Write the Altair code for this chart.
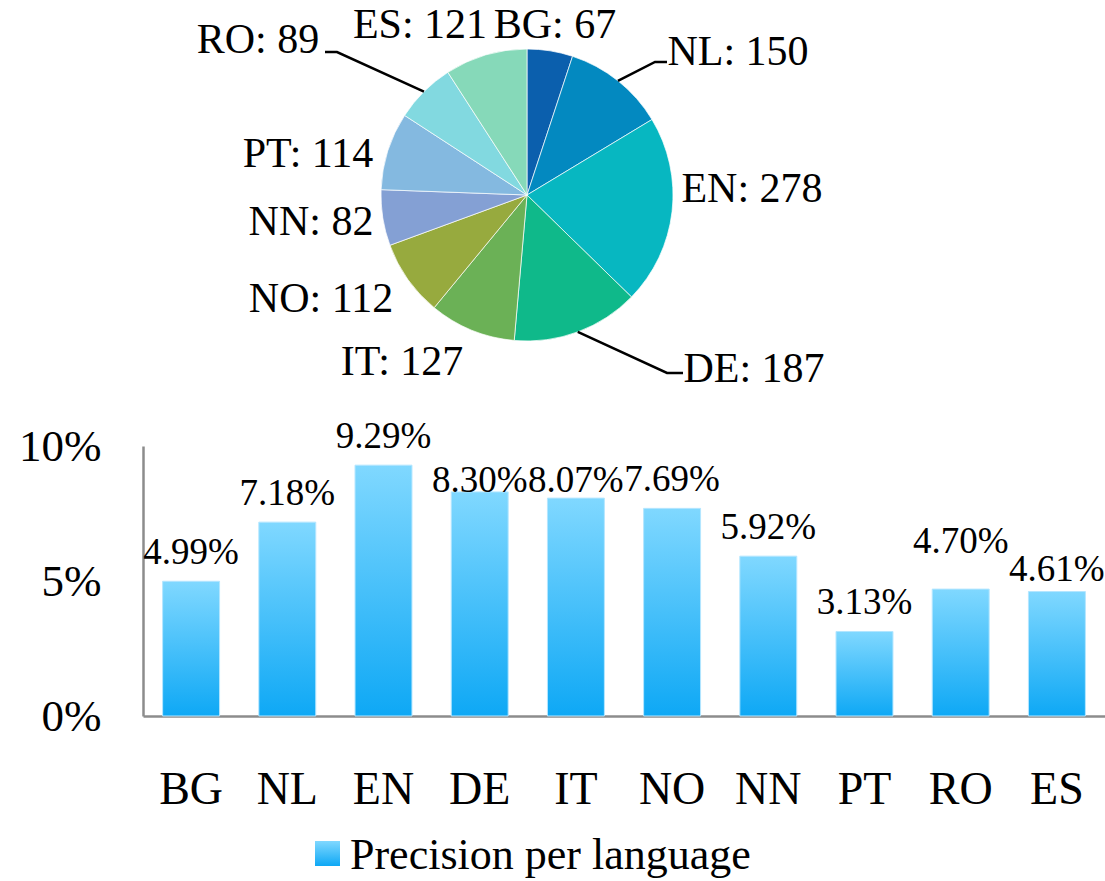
import math

import altair as alt
import pandas as pd

# ---- data -------------------------------------------------------------
languages = ["BG", "NL", "EN", "DE", "IT", "NO", "NN", "PT", "RO", "ES"]
pie_counts = [67, 150, 278, 187, 127, 112, 82, 114, 89, 121]
precision_pct = [4.99, 7.18, 9.29, 8.30, 8.07, 7.69, 5.92, 3.13, 4.70, 4.61]
y_ticks = [0, 5, 10]
legend_label = "Precision per language"

slice_colors = ["#0b5fad", "#0389c0", "#07b7c1", "#0fb98a", "#6bb156",
                "#97aa3e", "#84a0d4", "#84b9e0", "#82d9e0", "#86d9b9"]

# ---- layout (canvas pixels) ------------------------------------------
LEFT = 143          # left edge of the bar plot
PLOT_W = 962
PLOT_H = 716        # baseline of the bars (0 %)
BOTTOM = 165
Y_TOP = 446         # 10 % line
PIE_CX, PIE_CY, PIE_R = 527, 195, 146
FONT = "Liberation Serif"

# pie label anchors: centre x, baseline y
label_anchor = {
    "BG": (555, 38), "NL": (738, 65), "EN": (752, 202), "DE": (754, 382),
    "IT": (402, 375), "NO": (321, 312), "NN": (311, 235), "PT": (308, 167),
    "RO": (258, 53), "ES": (420, 38),
}
# leader lines: elbow and end point beside the label
leader_path = {
    "NL": [(655, 62), (667, 62)],
    "DE": [(667, 373), (683, 373)],
    "RO": [(337, 52), (325, 52)],
}
# value labels sit 17px above their bar; a few are nudged vertically
LABEL_GAP = 17
value_label_nudge = {"DE": 17, "IT": 11, "RO": -19, "ES": 6}

bar_fill = {
    "gradient": "linear", "x1": 0, "y1": 0, "x2": 0, "y2": 1,
    "stops": [{"offset": 0, "color": "#80d8ff"},
              {"offset": 1, "color": "#0ea8f5"}],
}

# ---- tables -----------------------------------------------------------
bars_df = pd.DataFrame({
    "lang": languages,
    "pct": precision_pct,
    "label": [f"{v:.2f}%" for v in precision_pct],
    "ny": [value_label_nudge.get(l, 0) for l in languages],
})

pie_df = pd.DataFrame({
    "lang": languages,
    "count": pie_counts,
    "idx": list(range(len(languages))),
})

total = sum(pie_counts)
mid_angle = {}
acc = 0
for lang, c in zip(languages, pie_counts):
    mid_angle[lang] = (acc + c / 2) / total * 2 * math.pi
    acc += c

pie_labels_df = pd.DataFrame({
    "text": [f"{l}: {c}" for l, c in zip(languages, pie_counts)],
    "px": [label_anchor[l][0] - LEFT for l in languages],
    "py": [label_anchor[l][1] for l in languages],
})

leader_rows = []
for lang, pts in leader_path.items():
    a = mid_angle[lang]
    start = (PIE_CX + PIE_R * math.sin(a), PIE_CY - PIE_R * math.cos(a))
    for step, (x, y) in enumerate([start] + pts):
        leader_rows.append({"lang": lang, "step": step, "px": x - LEFT, "py": y})
leader_df = pd.DataFrame(leader_rows)

# ---- bar chart --------------------------------------------------------
x_enc = alt.X(
    "lang:N", sort=languages,
    scale=alt.Scale(paddingInner=0.408, paddingOuter=0.204),
    axis=alt.Axis(title=None, ticks=False, tickSize=0, labelPadding=51,
                  labelFont=FONT, labelFontSize=46, labelColor="black",
                  labelAngle=0, domainColor="#8c8c8c", domainWidth=2.5),
)
y_enc = alt.Y(
    "pct:Q",
    scale=alt.Scale(domain=[0, 10], range=[PLOT_H, Y_TOP], nice=False, zero=True),
    axis=alt.Axis(title=None, values=y_ticks, labelExpr="datum.value + '%'",
                  ticks=False, tickSize=0, grid=False, labelPadding=42,
                  labelFont=FONT, labelFontSize=45, labelColor="black",
                  domainColor="#8c8c8c", domainWidth=2.5),
)

bars = alt.Chart(bars_df).mark_bar(
    color=bar_fill, stroke="#b4e6ff", strokeWidth=1
).encode(x=x_enc, y=y_enc)

# one text layer per vertical nudge
bar_text_layers = []
for nudge in sorted(set(bars_df["ny"])):
    bar_text_layers.append(
        alt.Chart(bars_df).transform_filter(
            alt.datum.ny == int(nudge)
        ).mark_text(
            dy=-LABEL_GAP + int(nudge), baseline="alphabetic", font=FONT,
            fontSize=37, color="black"
        ).encode(
            x=alt.X("lang:N", sort=languages),
            y="pct:Q",
            text="label:N",
        )
    )

# ---- pie --------------------------------------------------------------
arcs = alt.Chart(pie_df).mark_arc(
    outerRadius=PIE_R, stroke="white", strokeWidth=0.7
).encode(
    theta=alt.Theta("count:Q", stack=True),
    order=alt.Order("idx:Q"),
    color=alt.Color("lang:N", scale=alt.Scale(domain=languages, range=slice_colors),
                    legend=None),
    x=alt.value(PIE_CX - LEFT),
    y=alt.value(PIE_CY),
)

leaders = alt.Chart(leader_df).mark_line(color="black", strokeWidth=2.5).encode(
    x=alt.X("px:Q", scale=None),
    y=alt.Y("py:Q", scale=None),
    detail="lang:N",
    order="step:Q",
)

pie_text = alt.Chart(pie_labels_df).mark_text(
    align="center", baseline="alphabetic", font=FONT, fontSize=42, color="black"
).encode(
    x=alt.X("px:Q", scale=None),
    y=alt.Y("py:Q", scale=None),
    text="text:N",
)

# ---- legend -----------------------------------------------------------
one_row = pd.DataFrame({"k": [0]})
legend_box = alt.Chart(one_row).mark_rect(fill=bar_fill).encode(
    x=alt.value(315 - LEFT), x2=alt.value(340 - LEFT),
    y=alt.value(841), y2=alt.value(866),
)
legend_text = alt.Chart(one_row).mark_text(
    align="left", baseline="alphabetic", font=FONT, fontSize=44, color="black"
).encode(
    x=alt.value(350 - LEFT), y=alt.value(869), text=alt.value(legend_label),
)

chart = alt.layer(
    bars, *bar_text_layers, arcs, leaders, pie_text, legend_box, legend_text
).properties(
    width=PLOT_W,
    height=PLOT_H,
    autosize=alt.AutoSizeParams(type="none"),
    padding={"left": LEFT, "top": 0, "right": 0, "bottom": BOTTOM},
).configure_view(stroke=None)

chart.save("out.html", embed_options={"renderer": "svg", "actions": False})
